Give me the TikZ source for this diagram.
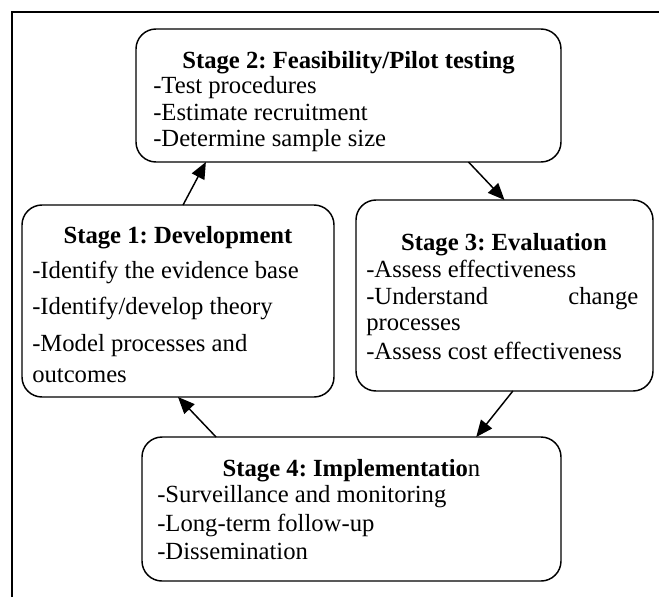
\documentclass[tikz,border=0pt]{standalone}
\usepackage{fontspec}
\setmainfont{Liberation Serif}
\usetikzlibrary{arrows.meta}
\frenchspacing
\begin{document}
\begin{tikzpicture}[x=0.75pt,y=-0.75pt,
  stagebox/.style={draw,line width=1.1pt,rounded corners=15pt,inner sep=0pt,outer sep=0pt},
  ttl/.style={inner sep=0pt,anchor=base,font=\fontsize{18.5}{21}\selectfont\bfseries},
  itm/.style={inner sep=0pt,anchor=base west,font=\fontsize{18.5}{21}\selectfont},
  flow/.style={line width=1.1pt,-{Triangle[length=12.5pt,width=10.5pt]}},
  frame/.style={line width=1.3pt}]
\useasboundingbox (0,0) rectangle (659,597);
% frame (cropped)
\coordinate (fa) at (12,597);
\coordinate (fb) at (12,12);
\coordinate (fc) at (659,12);
\draw[frame] (fa) -- (fb) -- (fc);
% boxes
\node[stagebox,minimum width=318.75pt,minimum height=99.75pt] (s2) at (348.5,95.5) {};
\node[stagebox,minimum width=234pt,minimum height=144pt] (s1) at (178,301) {};
\node[stagebox,minimum width=222.75pt,minimum height=143.25pt] (s3) at (504.5,295.5) {};
\node[stagebox,minimum width=314.25pt,minimum height=108pt] (s4) at (351.5,509) {};
% stage 2 text
\node[ttl] (t2) at (348.5,68) {Stage 2: Feasibility/Pilot testing};
\node[itm] (t2a) at (153,93) {-Test procedures};
\node[itm] (t2b) at (153,120) {-Estimate recruitment};
\node[itm] (t2c) at (153,146) {-Determine sample size};
% stage 1 text
\node[ttl] (t1) at (178,243) {Stage 1: Development};
\node[itm] (t1a) at (32,278) {-Identify the evidence base};
\node[itm] (t1b) at (32,314) {-Identify/develop theory};
\node[itm] (t1c) at (32,351) {-Model processes and};
\node[itm] (t1d) at (32,382) {outcomes};
% stage 3 text
\node[ttl] (t3) at (504,250) {Stage 3: Evaluation};
\node[itm] (t3a) at (366,277) {-Assess effectiveness};
\node[itm,text width=204pt] (t3b) at (366,304) {-Understand\hfill change};
\node[itm] (t3c) at (366,330) {processes};
\node[itm] (t3d) at (366,359) {-Assess cost effectiveness};
% stage 4 text
\node[ttl] (t4) at (351.5,476) {Stage 4: Implementatio\mdseries n};
\node[itm] (t4a) at (157,502) {-Surveillance and monitoring};
\node[itm] (t4b) at (157,531) {-Long-term follow-up};
\node[itm] (t4c) at (157,559) {-Dissemination};
% connectors
\draw[flow] (s1.87.6) -- (s2.205.2);
\draw[flow] (s2.331.9) -- (s3.90.9);
\draw[flow] (s3.275.1) -- (s4.30.2);
\draw[flow] (s4.152.5) -- (s1.270);
\end{tikzpicture}
\end{document}
